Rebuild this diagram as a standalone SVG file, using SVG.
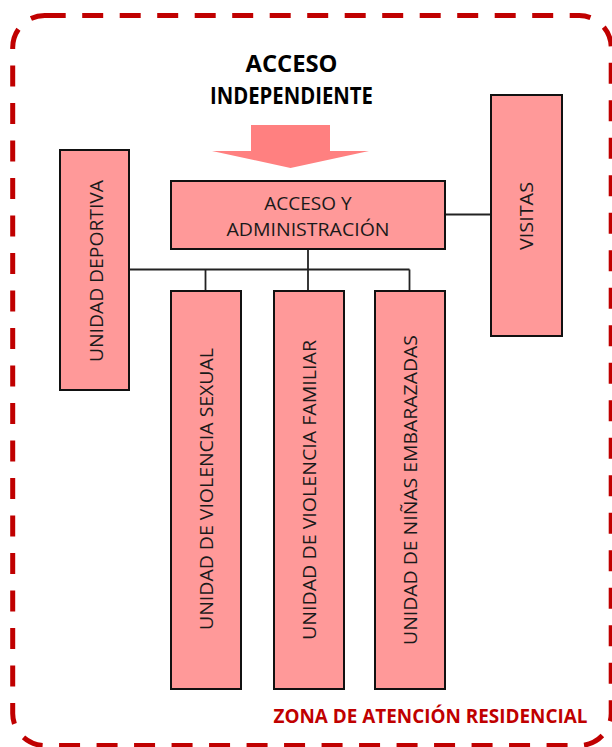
<svg xmlns="http://www.w3.org/2000/svg" width="612" height="747" viewBox="0 0 612 747">
  <style>
    .box { fill: #ff9999; stroke: #111; stroke-width: 2; }
    .lbl { font-family: "Open Sans", "Liberation Sans", sans-serif; font-size: 19px; fill: #1a1a1a; text-anchor: middle; }
    .wire { fill: none; stroke: #222; stroke-width: 1.8; }
    .zone { fill: none; stroke: #c00000; stroke-width: 5; stroke-dasharray: 21 16.5; }
  </style>

  <!-- residential zone boundary -->
  <rect class="zone" x="12.7" y="15.5" width="598.5" height="730" rx="32" ry="32"/>

  <!-- heading and entry arrow -->
  <g id="acceso-independiente">
    <text x="291.5" y="71.5" font-family="'Open Sans', 'Liberation Sans', sans-serif" font-weight="bold" font-size="24" text-anchor="middle" fill="#000" textLength="92" lengthAdjust="spacingAndGlyphs">ACCESO</text>
    <text x="291.5" y="103.5" font-family="'Open Sans', 'Liberation Sans', sans-serif" font-weight="bold" font-size="24" text-anchor="middle" fill="#000" textLength="163" lengthAdjust="spacingAndGlyphs">INDEPENDIENTE</text>
    <polygon points="251,125 330,125 330,151 369,151 290.5,168 212,151 251,151" fill="#ff8080"/>
  </g>

  <!-- connectors -->
  <g id="connectors">
    <line class="wire" x1="445" y1="214.5" x2="491" y2="214.5"/>
    <line class="wire" x1="308" y1="249" x2="308" y2="269.5"/>
    <line class="wire" x1="129" y1="269.5" x2="409.5" y2="269.5"/>
    <line class="wire" x1="205.5" y1="269.5" x2="205.5" y2="291"/>
    <line class="wire" x1="308" y1="269.5" x2="308" y2="291"/>
    <line class="wire" x1="409.5" y1="269.5" x2="409.5" y2="291"/>
  </g>

  <g id="acceso-administracion">
    <rect class="box" x="171" y="181" width="274" height="68"/>
    <text class="lbl" x="308" y="210">ACCESO Y</text>
    <text class="lbl" x="308" y="236" textLength="163" lengthAdjust="spacingAndGlyphs">ADMINISTRACIÓN</text>
  </g>

  <g id="visitas">
    <rect class="box" x="491" y="95" width="71" height="241"/>
    <text class="lbl" transform="translate(526.5,216) rotate(-90)" x="0" y="6.8" textLength="68" lengthAdjust="spacingAndGlyphs">VISITAS</text>
  </g>

  <g id="unidad-deportiva">
    <rect class="box" x="60" y="150" width="69" height="240"/>
    <text class="lbl" transform="translate(96,271) rotate(-90)" x="0" y="6.8" textLength="182" lengthAdjust="spacingAndGlyphs">UNIDAD DEPORTIVA</text>
  </g>

  <g id="unidad-violencia-sexual">
    <rect class="box" x="171" y="291" width="70" height="398"/>
    <text class="lbl" transform="translate(206.5,489) rotate(-90)" x="0" y="6.8" textLength="282" lengthAdjust="spacingAndGlyphs">UNIDAD DE VIOLENCIA SEXUAL</text>
  </g>

  <g id="unidad-violencia-familiar">
    <rect class="box" x="274" y="291" width="70" height="398"/>
    <text class="lbl" transform="translate(309,490) rotate(-90)" x="0" y="6.8" textLength="300" lengthAdjust="spacingAndGlyphs">UNIDAD DE VIOLENCIA FAMILIAR</text>
  </g>

  <g id="unidad-ninas-embarazadas">
    <rect class="box" x="375" y="291" width="70" height="398"/>
    <text class="lbl" transform="translate(410,490) rotate(-90)" x="0" y="6.8" textLength="310" lengthAdjust="spacingAndGlyphs">UNIDAD DE NIÑAS EMBARAZADAS</text>
  </g>

  <!-- zone caption -->
  <text x="430.5" y="723.3" font-family="'Open Sans', 'Liberation Sans', sans-serif" font-weight="bold" font-size="19" text-anchor="middle" fill="#c00000" textLength="314" lengthAdjust="spacingAndGlyphs">ZONA DE ATENCIÓN RESIDENCIAL</text>
</svg>
